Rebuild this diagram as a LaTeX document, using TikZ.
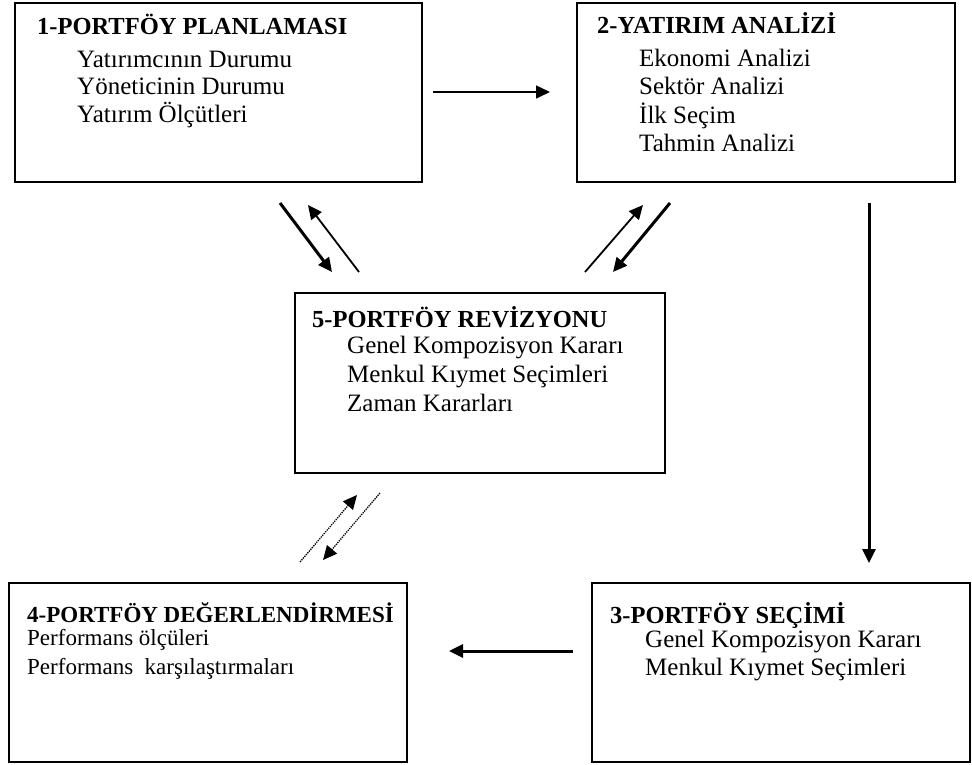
\documentclass[tikz,border=0pt]{standalone}
\usepackage{fontspec}
\setmainfont{Liberation Serif}
\usetikzlibrary{arrows.meta}
\newcommand{\itemlines}[1]{\begin{tabular}[t]{@{}l@{}}#1\end{tabular}}
\begin{document}
\begin{tikzpicture}[x=1pt,y=-1pt,
  box/.style={draw=black,line width=1.6pt,inner sep=0pt},
  ttl/.style={anchor=base west,inner sep=0pt,font=\fontsize{24.5}{28}\selectfont\bfseries},
  itm/.style={anchor=base west,inner sep=0pt,font=\fontsize{25}{28}\selectfont},
  thickarr/.style={line width=3pt,-{Triangle[length=14pt,width=13pt]}},
  midarr/.style={line width=1.8pt,-{Triangle[length=14pt,width=13pt]}},
  thinarr/.style={line width=1.3pt,densely dotted,-{Triangle[length=14pt,width=13pt]}}
]
\useasboundingbox (0,0) rectangle (972,764);
% boxes
\draw[box] (15,3) rectangle (422,182) node[pos=0.5,draw=none] (b1) {};
\draw[box] (577,3) rectangle (955,182) node[pos=0.5,draw=none] (b2) {};
\draw[box] (295,293) rectangle (665,473) node[pos=0.5,draw=none] (b5) {};
\draw[box] (9,583) rectangle (407,762) node[pos=0.5,draw=none] (b4) {};
\draw[box] (592,583) rectangle (970,762) node[pos=0.5,draw=none] (b3) {};
% texts
\node[ttl] (t1) at (37,34) {1-PORTFÖY PLANLAMASI};
\node[itm,font=\fontsize{25}{27}\selectfont] (i1) at (77,67) {\itemlines{Yatırımcının Durumu\\Yöneticinin Durumu\\Yatırım Ölçütleri}};
\node[ttl] (t2) at (597,33) {2-YATIRIM ANALİZİ};
\node[itm] (i2) at (639,66) {\itemlines{Ekonomi Analizi\\Sektör Analizi\\İlk Seçim\\Tahmin Analizi}};
\node[ttl] (t5) at (312,327) {5-PORTFÖY REVİZYONU};
\node[itm,font=\fontsize{25}{29}\selectfont] (i5) at (347,353) {\itemlines{Genel Kompozisyon Kararı\\Menkul Kıymet Seçimleri\\Zaman Kararları}};
\node[ttl,font=\fontsize{23}{28}\selectfont\bfseries] (t4) at (27,622) {4-PORTFÖY DEĞERLENDİRMESİ};
\node[itm,font=\fontsize{23}{29}\selectfont] (i4) at (27,645) {\itemlines{Performans ölçüleri\\Performans \ karşılaştırmaları}};
\node[ttl] (t3) at (610,623) {3-PORTFÖY SEÇİMİ};
\node[itm] (i3) at (645,647) {\itemlines{Genel Kompozisyon Kararı\\Menkul Kıymet Seçimleri}};
% arrow end points
\coordinate (a12s) at (433,92);  \coordinate (a12e) at (550,92);
\coordinate (a23s) at (869,203); \coordinate (a23e) at (869,563);
\coordinate (a34s) at (573,651); \coordinate (a34e) at (449,651);
\coordinate (d1s) at (280,203);  \coordinate (d1e) at (332,272);
\coordinate (d2s) at (359,272);  \coordinate (d2e) at (308,205);
\coordinate (d3s) at (585,272);  \coordinate (d3e) at (643,205);
\coordinate (d4s) at (670,203);  \coordinate (d4e) at (613,272);
\coordinate (d5s) at (300,562);  \coordinate (d5e) at (357,495);
\coordinate (d6s) at (380,493);  \coordinate (d6e) at (323,560);
% arrows
\draw[midarr,line width=1.5pt] (a12s) -- (a12e);
\draw[thickarr] (a23s) -- (a23e);
\draw[thickarr] (a34s) -- (a34e);
\draw[thickarr] (d1s) -- (d1e);
\draw[midarr] (d2s) -- (d2e);
\draw[midarr] (d3s) -- (d3e);
\draw[thickarr] (d4s) -- (d4e);
\draw[thinarr] (d5s) -- (d5e);
\draw[thinarr] (d6s) -- (d6e);
\end{tikzpicture}
\end{document}
